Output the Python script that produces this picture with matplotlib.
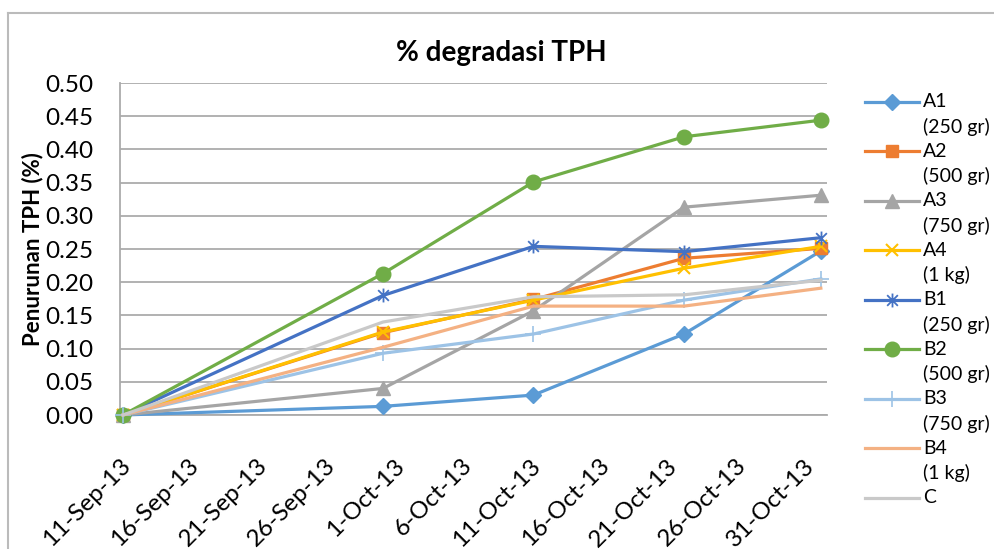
import numpy as np
import pandas as pd
import matplotlib
matplotlib.use('Agg')
import matplotlib.pyplot as plt
import matplotlib.dates as mdates
from matplotlib.lines import Line2D
from matplotlib.path import Path
from matplotlib.ticker import FuncFormatter, MultipleLocator
from matplotlib.transforms import ScaledTranslation

plt.rcParams['font.family'] = ['Lato', 'DejaVu Sans']

# sampling dates and % TPH decrease per treatment
dates = pd.to_datetime(['2013-09-11', '2013-09-30', '2013-10-11', '2013-10-22', '2013-11-01'])
codes = ['A1', 'A2', 'A3', 'A4', 'B1', 'B2', 'B3', 'B4', 'C']
doses = ['(250 gr)', '(500 gr)', '(750 gr)', '(1 kg)', '(250 gr)', '(500 gr)', '(750 gr)', '(1 kg)', '']
A1 = [0.0, 0.013, 0.030, 0.122, 0.247]
A2 = [0.0, 0.124, 0.174, 0.236, 0.251]
A3 = [0.0, 0.040, 0.157, 0.313, 0.331]
A4 = [0.0, 0.125, 0.173, 0.221, 0.254]
B1 = [0.0, 0.180, 0.254, 0.246, 0.267]
B2 = [0.0, 0.213, 0.351, 0.419, 0.444]
B3 = [0.0, 0.093, 0.122, 0.173, 0.205]
B4 = [0.0, 0.102, 0.164, 0.164, 0.191]
C = [0.0, 0.140, 0.178, 0.181, 0.203]
series = [A1, A2, A3, A4, B1, B2, B3, B4, C]
tick_dates = pd.date_range('2013-09-11', '2013-10-31', freq='5D')

colors = ['#5B9BD5', '#ED7D31', '#A5A5A5', '#FFC000', '#4472C4',
          '#70AD47', '#9DC3E6', '#F4B183', '#C9C9C9']
star = Path([(-1, -1), (1, 1), (-1, 1), (1, -1), (0, -1.3), (0, 1.3)],
            [Path.MOVETO, Path.LINETO, Path.MOVETO, Path.LINETO, Path.MOVETO, Path.LINETO])
styles = [dict(marker='D', ms=8.5),
          dict(marker='s', ms=9),
          dict(marker='^', ms=10),
          dict(marker='x', ms=9, mew=1.5),
          dict(marker=star, ms=10, mew=1.3),
          dict(marker='o', ms=10.5),
          dict(marker='+', ms=11, mew=1.2),
          dict(marker=None),
          dict(marker=None)]

W, H = 995, 549
fig = plt.figure(figsize=(W / 100, H / 100), dpi=100)
ax = fig.add_axes([120 / W, 1 - 415 / H, (827 - 120) / W, (415 - 83) / H])

x = mdates.date2num(dates)
for vals, col, st in zip(series, colors, styles):
    ax.plot(x, vals, color=col, lw=2.3, clip_on=False, zorder=3, **st)

x0 = x[0]
ax.set_xlim(x0 - 0.22, x0 + 51.45)
ax.set_ylim(0, 0.5)
ax.yaxis.set_major_locator(MultipleLocator(0.05))
ax.yaxis.set_major_formatter(FuncFormatter(lambda v, p: '%.2f' % v))
ax.set_xticks(mdates.date2num(tick_dates))
ax.set_xticklabels(['%d-%s' % (d.day, d.strftime('%b-%y')) for d in tick_dates],
                   rotation=45, ha='right', va='center', rotation_mode='anchor')
ax.tick_params(axis='x', length=0, pad=25, labelsize=17.5)
ax.tick_params(axis='y', length=0, pad=19, labelsize=17.5)
shift = ScaledTranslation(4 / 100, -12.5 / 100, fig.dpi_scale_trans)
for lab in ax.get_xticklabels():
    lab.set_transform(lab.get_transform() + shift)
ax.grid(axis='y', color='#ABABAB', lw=1.3)
ax.set_axisbelow(True)
for s in ['top', 'right']:
    ax.spines[s].set_visible(False)
for s in ['left', 'bottom']:
    ax.spines[s].set_color('#ABABAB')
    ax.spines[s].set_linewidth(1.3)

fig.text(501 / W, 1 - 53 / H, '% degradasi TPH', ha='center', va='center',
         fontsize=20, fontweight='bold')
fig.text(32.5 / W, 1 - 249 / H, 'Penurunan TPH (%)', ha='center', va='center',
         rotation=90, fontsize=16, fontweight='bold')

# legend, Excel style (handle beside the first line)
for i, (code, dose, col, st) in enumerate(zip(codes, doses, colors, styles)):
    yp = 1 - (101.7 + i * 49.5) / H
    fig.add_artist(Line2D([865 / W, 919 / W], [yp, yp], color=col, lw=2.3))
    if st['marker'] is not None:
        fig.add_artist(Line2D([892 / W], [yp], color=col, lw=0, **st))
    fig.text(923 / W, yp, code, ha='left', va='center', fontsize=14)
    if dose:
        fig.text(923 / W, yp - 25 / H, dose, ha='left', va='center', fontsize=14)

# chart area border (top and left visible)
fig.add_artist(Line2D([8 / W, 1], [1 - 13 / H, 1 - 13 / H], color='#BBBBBB', lw=1.5))
fig.add_artist(Line2D([8 / W, 8 / W], [0, 1 - 13 / H], color='#BBBBBB', lw=1.5))

fig.savefig('out.png', dpi=100)
